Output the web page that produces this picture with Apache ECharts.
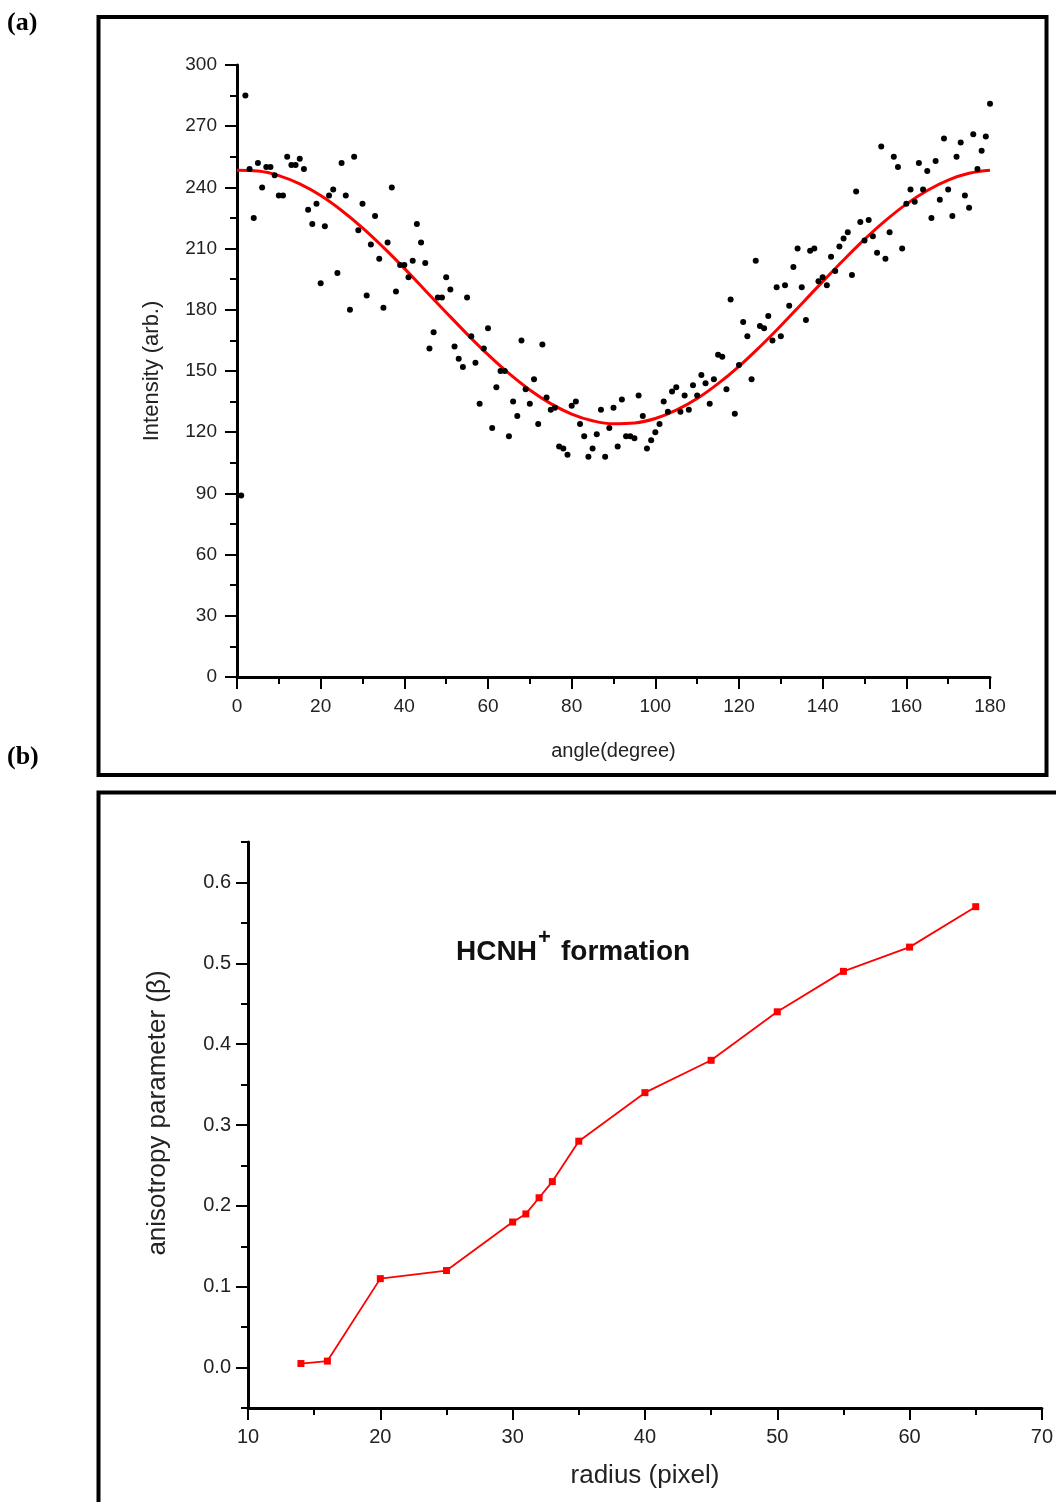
<!DOCTYPE html>
<html>
<head>
<meta charset="utf-8">
<title>Angular distribution and anisotropy parameter</title>
<script src="https://cdn.jsdelivr.net/npm/echarts@6/dist/echarts.min.js"></script>
<style>
  html, body { margin: 0; padding: 0; background: #fff; }
  #chart { width: 1056px; height: 1502px; }
</style>
</head>
<body>
<div id="chart"></div>
<script>
// (a) measured intensity, one sample per degree starting at 1 degree
const intensity = [
  89, 285, 249, 225, 252, 240, 250, 250, 246, 236,
  236, 255, 251, 251, 254, 249, 229, 222, 232, 193,
  221, 236, 239, 198, 252, 236, 180, 255, 219, 232,
  187, 212, 226, 205, 181, 213, 240, 189, 202, 202,
  196, 204, 222, 213, 203, 161, 169, 186, 186, 196,
  190, 162, 156, 152, 186, 167, 154, 134, 161, 171,
  122, 142, 150, 150, 118, 135, 128, 165, 141, 134,
  146, 124, 163, 137, 131, 132, 113, 112, 109, 133,
  135, 124, 118, 108, 112, 119, 131, 108, 122, 132,
  113, 136, 118, 118, 117, 138, 128, 112, 116, 120,
  124, 135, 130, 140, 142, 130, 138, 131, 143, 138,
  148, 144, 134, 146, 158, 157, 141, 185, 129, 153,
  174, 167, 146, 204, 172, 171, 177, 165, 191, 167,
  192, 182, 201, 210, 191, 175, 209, 210, 194, 196,
  192, 206, 199, 211, 215, 218, 197, 238, 223, 214,
  224, 216, 208, 260, 205, 218, 255, 250, 210, 232,
  239, 233, 252, 239, 248, 225, 253, 234, 264, 239,
  226, 255, 262, 236, 230, 266, 249, 258, 265, 281
];
const firstAngle = 1;

// (a) fitted curve, read every 5 degrees
const fitAngles = [
  0, 5, 10, 15, 20, 25, 30, 35, 40, 45, 50, 55, 60, 65, 70, 75, 80, 85, 90,
  95, 100, 105, 110, 115, 120, 125, 130, 135, 140, 145, 150, 155, 160, 165, 170, 175, 180
];
const fitValues = [
  248.4, 248.0, 245.8, 241.7, 236.0, 228.7, 220.2, 210.6, 200.3, 189.5, 178.7, 168.1, 158.0, 148.8, 140.7, 134.0, 128.9, 125.6, 124.1,
  124.5, 126.7, 130.8, 136.5, 143.8, 152.3, 161.9, 172.2, 183.0, 193.8, 204.4, 214.5, 223.7, 231.8, 238.5, 243.6, 246.9, 248.4
];

// (b) anisotropy parameter versus radius
const radius = [14, 16, 20, 25, 30, 31, 32, 33, 35, 40, 45, 50, 55, 60, 65];
const beta = [0.005, 0.008, 0.11, 0.12, 0.18, 0.19, 0.21, 0.23, 0.28, 0.34, 0.38, 0.44, 0.49, 0.52, 0.57];

// (b) tick positions on the beta axis
const betaMajorTicks = [0, 0.1, 0.2, 0.3, 0.4, 0.5, 0.6];
const betaMinorTicks = [-0.05, 0.05, 0.15, 0.25, 0.35, 0.45, 0.55, 0.65];

const FONT = "'Liberation Sans', Arial, Helvetica, sans-serif";
const TEXT = '#222';

const scatterData = intensity.map((v, i) => [firstAngle + i, v]);
const fitData = fitAngles.map((a, i) => [a, fitValues[i]]);
const betaData = radius.map((r, i) => [r, beta[i]]);

function baseAxis(extra) {
  return Object.assign({
    axisLine: { show: true, onZero: false, lineStyle: { color: '#000', width: 3 } },
    axisTick: { show: true, inside: false, length: 12, lineStyle: { color: '#000', width: 2 } },
    minorTick: { show: true, splitNumber: 2, length: 7, lineStyle: { color: '#000', width: 2 } },
    splitLine: { show: false },
    minorSplitLine: { show: false },
    nameTextStyle: { fontFamily: FONT, color: TEXT }
  }, extra);
}

const chart = echarts.init(document.getElementById('chart'), null, { renderer: 'canvas' });

chart.setOption({
  backgroundColor: '#fff',
  animation: false,
  grid: [
    { left: 237, top: 65, width: 753, height: 612, containLabel: false },
    { left: 248, top: 842, width: 796, height: 566, containLabel: false }
  ],
  xAxis: [
    baseAxis({
      gridIndex: 0, type: 'value', min: 0, max: 180, interval: 20,
      name: 'angle(degree)', nameLocation: 'middle', nameGap: 64,
      nameTextStyle: { fontFamily: FONT, color: TEXT, fontSize: 20 },
      axisLabel: { fontFamily: FONT, color: TEXT, fontSize: 19, margin: 20 }
    }),
    baseAxis({
      gridIndex: 1, type: 'value', min: 10, max: 70, interval: 10,
      name: 'radius (pixel)', nameLocation: 'middle', nameGap: 55,
      nameTextStyle: { fontFamily: FONT, color: TEXT, fontSize: 26 },
      axisLabel: { fontFamily: FONT, color: TEXT, fontSize: 20, margin: 19 }
    })
  ],
  yAxis: [
    baseAxis({
      gridIndex: 0, type: 'value', min: 0, max: 300, interval: 30,
      name: 'Intensity (arb.)', nameLocation: 'middle', nameGap: 74, nameRotate: 90,
      nameTextStyle: { fontFamily: FONT, color: TEXT, fontSize: 22 },
      axisLabel: { fontFamily: FONT, color: TEXT, fontSize: 19, margin: 20 }
    }),
    baseAxis({
      gridIndex: 1, type: 'value', min: -0.05, max: 0.65,
      name: 'anisotropy parameter (β)', nameLocation: 'middle', nameGap: 77, nameRotate: 90,
      nameTextStyle: { fontFamily: FONT, color: TEXT, fontSize: 26, padding: [0, 0, 0, 24] },
      minorTick: { show: false },
      axisTick: { show: true, inside: false, length: 12, customValues: betaMajorTicks, lineStyle: { color: '#000', width: 2 } },
      axisLabel: { fontFamily: FONT, color: TEXT, fontSize: 20, margin: 17, customValues: betaMajorTicks,
        formatter: v => (Math.abs(v) < 1e-9 ? 0 : v).toFixed(1) }
    }),
    // minor ticks of the beta axis
    {
      gridIndex: 1, type: 'value', min: -0.05, max: 0.65, position: 'left',
      axisLine: { show: false },
      axisTick: { show: true, inside: false, length: 7, customValues: betaMinorTicks, lineStyle: { color: '#000', width: 2 } },
      axisLabel: { show: false },
      splitLine: { show: false }
    }
  ],
  series: [
    {
      name: 'fit', type: 'line', xAxisIndex: 0, yAxisIndex: 0,
      data: fitData, smooth: 0.4, showSymbol: false, symbol: 'none',
      lineStyle: { color: '#ff0000', width: 3 }, z: 2
    },
    {
      name: 'intensity', type: 'scatter', xAxisIndex: 0, yAxisIndex: 0,
      data: scatterData, symbol: 'circle', symbolSize: 6,
      itemStyle: { color: '#000', opacity: 1 }, z: 3
    },
    {
      name: 'beta', type: 'line', xAxisIndex: 1, yAxisIndex: 1,
      data: betaData, symbol: 'rect', symbolSize: 7, showAllSymbol: true,
      lineStyle: { color: '#ff0000', width: 1.8 },
      itemStyle: { color: '#ff0000' }
    }
  ],
  graphic: [
    // panel frames
    { type: 'rect', shape: { x: 98.5, y: 17, width: 948, height: 758 },
      style: { fill: null, stroke: '#000', lineWidth: 4 }, z: 10 },
    { type: 'polyline', shape: { points: [[98.5, 1510], [98.5, 792.5], [1060, 792.5]] },
      style: { fill: null, stroke: '#000', lineWidth: 4 }, z: 10 },
    // panel labels
    { type: 'text', x: 7, y: 23, style: { text: '(a)', font: "bold 26px 'Liberation Serif', 'Times New Roman', serif",
      fill: '#000', textVerticalAlign: 'middle' } },
    { type: 'text', x: 7, y: 757, style: { text: '(b)', font: "bold 26px 'Liberation Serif', 'Times New Roman', serif",
      fill: '#000', textVerticalAlign: 'middle' } },
    // panel (b) caption
    { type: 'text', x: 456, y: 952, style: { text: 'HCNH', font: "bold 28px 'Liberation Sans', Arial, sans-serif",
      fill: '#111', textVerticalAlign: 'middle' } },
    { type: 'text', x: 538, y: 938, style: { text: '+', font: "bold 22px 'Liberation Sans', Arial, sans-serif",
      fill: '#111', textVerticalAlign: 'middle' } },
    { type: 'text', x: 561, y: 952, style: { text: 'formation', font: "bold 28px 'Liberation Sans', Arial, sans-serif",
      fill: '#111', textVerticalAlign: 'middle' } }
  ]
});
</script>
</body>
</html>
